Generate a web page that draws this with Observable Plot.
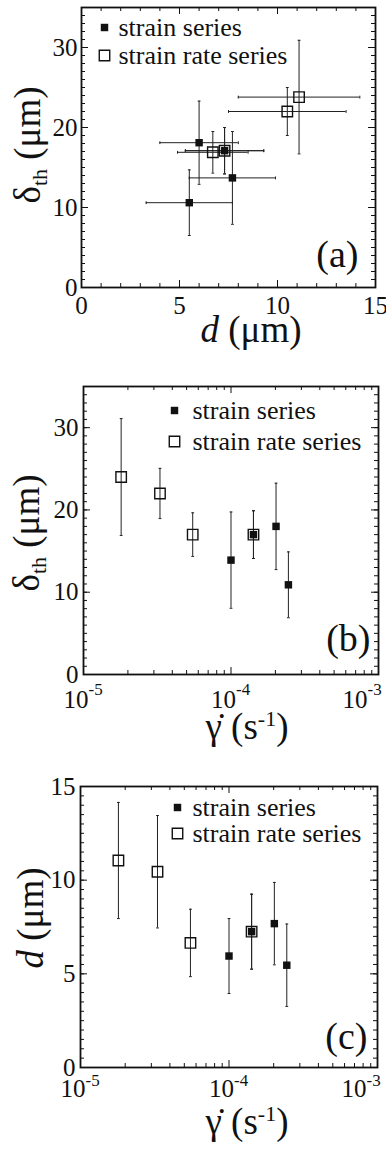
<!DOCTYPE html>
<html><head><meta charset="utf-8">
<script src="https://cdn.jsdelivr.net/npm/d3@7"></script>
<script src="https://cdn.jsdelivr.net/npm/@observablehq/plot@0.6"></script>
<style>
body{margin:0;background:#fff;}
#chart{position:relative;width:386px;height:1152px;background:#fff;}
#chart svg{position:absolute;left:0;display:block;font-family:"Liberation Serif" !important;}
#chart svg text, #chart svg tspan{font-family:"Liberation Serif" !important;}
</style></head><body><div id="chart"></div>
<script>
// ---------- Panel (a): delta_th vs d ----------
const aStrainD = [5.5, 6.0, 7.3, 7.7];
const aStrainDErr = [2.2, 2.0, 2.0, 2.2];
const aStrainDelta = [10.6, 18.1, 17.1, 13.7];
const aStrainDeltaErr = [4.1, 5.2, 2.9, 5.8];
const aRateD = [6.7, 7.3, 10.5, 11.1];
const aRateDErr = [1.8, 2.0, 3.0, 3.1];
const aRateDelta = [16.9, 17.1, 22.0, 23.8];
const aRateDeltaErr = [2.6, 2.9, 3.0, 7.1];

// ---------- Strain rates (panels b, c) ----------
const strainRates = [1.0e-4, 1.42e-4, 2.02e-4, 2.45e-4];
const rateRates = [1.8e-5, 3.3e-5, 5.5e-5, 1.42e-4];

// Panel (b): delta_th vs strain rate
const bStrainDelta = [13.9, 17.0, 18.0, 10.9];
const bStrainDeltaErr = [5.85, 2.9, 5.25, 4.0];
const bRateDelta = [24.0, 22.0, 17.0, 17.0];
const bRateDeltaErr = [7.1, 3.05, 2.65, 2.9];

// Panel (c): d vs strain rate
const cStrainD = [5.95, 7.25, 7.68, 5.46];
const cStrainDErr = [2.0, 2.0, 2.2, 2.2];
const cRateD = [11.05, 10.45, 6.65, 7.25];
const cRateDErr = [3.1, 3.0, 1.8, 2.0];

// ---------- Tick values ----------
const aXMajor = [0, 5, 10, 15];
const aYMajor = [0, 10, 20, 30];
const cYMajor = [0, 5, 10, 15];
const logMajor = [1e-5, 1e-4, 1e-3];
const logExp = ["-5", "-4", "-3"];
const legendLabels = ["strain series", "strain rate series"];

const FONT = "Liberation Serif";
const INK = "#111";
const BAR = "#222";

const capH = {draw(ctx, size) { const w = Math.sqrt(size) / 2; ctx.moveTo(-w, 0); ctx.lineTo(w, 0); }};
const capV = {draw(ctx, size) { const w = Math.sqrt(size) / 2; ctx.moveTo(0, -w); ctx.lineTo(0, w); }};

function rows(xs, ys, yes, xes) {
  return xs.map((x, i) => ({x, y: ys[i], ye: yes[i], xe: xes ? xes[i] : 0}));
}

function panel(cfg) {
  const {width = 386, height, m, xType, xDomain, yDomain, xMinor, yMinor, xMajor, yMajor,
    strain, rate, hasXErr, legend, tag, xTicks, yTickDx} = cfg;
  const plotW = width - m.left - m.right;
  const plotH = height - m.top - m.bottom;
  const marks = [];
  const all = [...rate, ...strain];
  if (hasXErr) {
    marks.push(Plot.ruleY(all, {y: "y", x1: d => d.x - d.xe, x2: d => d.x + d.xe, stroke: BAR, strokeWidth: 1}));
    marks.push(Plot.dot(all, {x: d => d.x - d.xe, y: "y", symbol: capV, r: 1.6, fill: "none", stroke: BAR, strokeWidth: 1}));
    marks.push(Plot.dot(all, {x: d => d.x + d.xe, y: "y", symbol: capV, r: 1.6, fill: "none", stroke: BAR, strokeWidth: 1}));
  }
  marks.push(Plot.ruleX(all, {x: "x", y1: d => d.y - d.ye, y2: d => d.y + d.ye, stroke: BAR, strokeWidth: 1}));
  marks.push(Plot.dot(all, {x: "x", y: d => d.y - d.ye, symbol: capH, r: 1.6, fill: "none", stroke: BAR, strokeWidth: 1}));
  marks.push(Plot.dot(all, {x: "x", y: d => d.y + d.ye, symbol: capH, r: 1.6, fill: "none", stroke: BAR, strokeWidth: 1}));
  marks.push(Plot.dot(rate, {x: "x", y: "y", symbol: "square", r: 5.9, fill: "none", stroke: INK, strokeWidth: 1.4}));
  marks.push(Plot.dot(strain, {x: "x", y: "y", symbol: "square", r: 4.2, fill: INK, stroke: "none"}));
  // frame & inward ticks on four sides
  marks.push(Plot.frame({stroke: INK, strokeWidth: 1.8}));
  const tk = (arr, len) => [
    Plot.tickX(arr, {x: d => d, insetTop: plotH - len, stroke: INK, strokeWidth: 1}),
    Plot.tickX(arr, {x: d => d, insetBottom: plotH - len, stroke: INK, strokeWidth: 1})
  ];
  const tkY = (arr, len) => [
    Plot.tickY(arr, {y: d => d, insetRight: plotW - len, stroke: INK, strokeWidth: 1}),
    Plot.tickY(arr, {y: d => d, insetLeft: plotW - len, stroke: INK, strokeWidth: 1})
  ];
  marks.push(...tk(xMinor, 4), ...tk(xMajor, 7), ...tkY(yMinor, 4), ...tkY(yMajor, 7));
  // tick labels
  marks.push(Plot.text(yMajor, {y: d => d, text: d => String(d), frameAnchor: "left", textAnchor: "end", lineAnchor: "middle", dx: yTickDx, fontSize: 25, fontFamily: FONT, fill: INK}));
  if (xType === "log") {
    const lastShift = -16;
    [[0, 2, 0], [2, 3, lastShift]].forEach(([a, b, s]) => {
      const ticks = xMajor.slice(a, b), exps = logExp.slice(a, b);
      marks.push(Plot.text(ticks, {x: d => d, text: () => "10", frameAnchor: "bottom", textAnchor: "end", lineAnchor: "middle", dx: 5 + s, dy: xTicks.dy, fontSize: 25, fontFamily: FONT, fill: INK}));
      marks.push(Plot.text(ticks, {x: d => d, text: (d, i) => exps[i], frameAnchor: "bottom", textAnchor: "start", lineAnchor: "middle", dx: 5 + s, dy: xTicks.edy, fontSize: 17, fontFamily: FONT, fill: INK}));
    });
  } else {
    marks.push(Plot.text(xMajor, {x: d => d, text: d => String(d), frameAnchor: "bottom", lineAnchor: "middle", dy: xTicks.dy, fontSize: 25, fontFamily: FONT, fill: INK}));
  }
  // legend
  marks.push(Plot.dot([0], {frameAnchor: "top-left", dx: legend.mx, dy: legend.y1, symbol: "square", r: 4.2, fill: INK, stroke: "none"}));
  marks.push(Plot.dot([0], {frameAnchor: "top-left", dx: legend.mx, dy: legend.y2, symbol: "square", r: 5.9, fill: "none", stroke: INK, strokeWidth: 1.4}));
  marks.push(Plot.text([legendLabels[0]], {text: d => d, frameAnchor: "top-left", dx: legend.tx, dy: legend.y1, textAnchor: "start", lineAnchor: "middle", fontSize: 26, fontFamily: FONT, fill: INK}));
  marks.push(Plot.text([legendLabels[1]], {text: d => d, frameAnchor: "top-left", dx: legend.tx, dy: legend.y2, textAnchor: "start", lineAnchor: "middle", fontSize: 26, fontFamily: FONT, fill: INK}));
  // panel tag
  marks.push(Plot.text([tag.text], {text: d => d, frameAnchor: "bottom-right", textAnchor: "end", lineAnchor: "middle", dx: tag.dx, dy: tag.dy, fontSize: 38, fontFamily: FONT, fill: INK}));

  return Plot.plot({
    width, height,
    marginTop: m.top, marginBottom: m.bottom, marginLeft: m.left, marginRight: m.right,
    x: {type: xType, domain: xDomain, axis: null},
    y: {type: "linear", domain: yDomain, axis: null},
    style: {background: "white", overflow: "visible"},
    marks
  });
}

const linMinor = (a, b, s) => d3.range(a, b + 1e-9, s);
const logMinor = [2,3,4,5,6,7,8,9].flatMap(k => [k * 1e-5, k * 1e-4]);

const chart = document.getElementById("chart");

function addSvg(svg, top, xt, yt) {
  svg.style.top = top + "px";
  svg.setAttribute("font-family", FONT);
  chart.appendChild(svg);
  const s = d3.select(svg);
  const tx = s.append("text").attr("x", xt.x).attr("y", xt.y).attr("text-anchor", "middle")
    .attr("font-family", FONT).attr("font-size", 37).attr("fill", INK);
  xt.build(tx);
  const ty = s.append("text").attr("transform", `translate(${yt.x},${yt.y}) rotate(-90)`)
    .attr("text-anchor", "middle").attr("font-family", FONT).attr("font-size", 37).attr("fill", INK);
  yt.build(ty);
}

const deltaTitle = t => {
  t.append("tspan").text("δ");
  t.append("tspan").attr("font-size", 22).attr("dy", 7).text("th");
  t.append("tspan").attr("dy", -7).text(" (μm)");
};
const dTitle = t => {
  t.append("tspan").attr("font-style", "italic").text("d");
  t.append("tspan").text(" (μm)");
};
const rateTitle = t => {
  t.append("tspan").text("\u03B3\u0307 (s");
  t.append("tspan").attr("font-size", 22).attr("dy", -13).text("-1");
  t.append("tspan").attr("dy", 13).text(")");
};

// Panel (a)
const svgA = panel({
  height: 360, m: {top: 7, bottom: 73, left: 81, right: 11},
  xType: "linear", xDomain: [0, 15], yDomain: [0, 35],
  xMajor: aXMajor, yMajor: aYMajor, xMinor: linMinor(0, 15, 1), yMinor: linMinor(0, 35, 1),
  strain: rows(aStrainD, aStrainDelta, aStrainDeltaErr, aStrainDErr),
  rate: rows(aRateD, aRateDelta, aRateDeltaErr, aRateDErr),
  hasXErr: true,
  legend: {mx: 23, tx: 37, y1: 20, y2: 48},
  tag: {text: "(a)", dx: -17, dy: -33},
  xTicks: {dy: 18}, yTickDx: -4
});
addSvg(svgA, 0, {x: 251, y: 342, build: dTitle}, {x: 40, y: 145, build: deltaTitle});

// Panel (b)
const svgB = panel({
  height: 400, m: {top: 26, bottom: 86, left: 83, right: 8},
  xType: "log", xDomain: [1e-5, 1e-3], yDomain: [0, 35],
  xMajor: logMajor, yMajor: aYMajor, xMinor: logMinor, yMinor: linMinor(0, 35, 1),
  strain: rows(strainRates, bStrainDelta, bStrainDeltaErr),
  rate: rows(rateRates, bRateDelta, bRateDeltaErr),
  hasXErr: false,
  legend: {mx: 91, tx: 109, y1: 24, y2: 55},
  tag: {text: "(b)", dx: -8, dy: -36},
  xTicks: {dy: 25, edy: 15}, yTickDx: -5
});
addSvg(svgB, 360, {x: 247, y: 379, build: rateTitle}, {x: 39, y: 173, build: deltaTitle});

// Panel (c)
const svgC = panel({
  height: 392, m: {top: 26, bottom: 85, left: 80, right: 9},
  xType: "log", xDomain: [1e-5, 1e-3], yDomain: [0, 15],
  xMajor: logMajor, yMajor: cYMajor, xMinor: logMinor, yMinor: linMinor(0, 15, 0.5),
  strain: rows(strainRates, cStrainD, cStrainDErr),
  rate: rows(rateRates, cRateD, cRateDErr),
  hasXErr: false,
  legend: {mx: 97, tx: 112, y1: 21, y2: 47},
  tag: {text: "(c)", dx: -10, dy: -31},
  xTicks: {dy: 21, edy: 13}, yTickDx: -5
});
addSvg(svgC, 760, {x: 247, y: 374, build: rateTitle}, {x: 43, y: 158, build: dTitle});
</script></body></html>
